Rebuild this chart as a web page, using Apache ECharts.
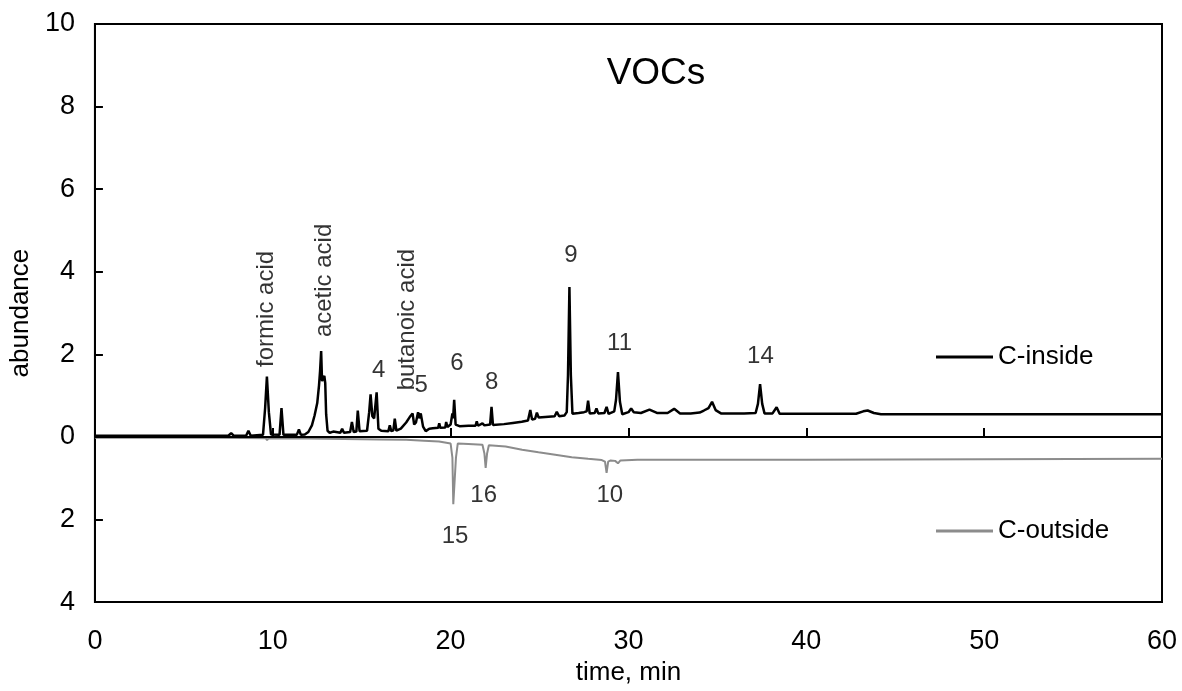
<!DOCTYPE html>
<html lang="en">
<head>
  <meta charset="UTF-8">
  <title>VOCs</title>
  <script src="https://cdn.jsdelivr.net/npm/echarts/dist/echarts.min.js"></script>
  <style>
    body { margin: 0; background: #ffffff; }
    #main { width: 1182px; height: 691px; }
  </style>
</head>
<body>
  <div id="main"></div>
  <script>
    // chromatogram traces, [time (min), abundance]; C-outside is drawn downwards
    const insideData = [
      [0, 0.03], [5, 0.03], [7.5, 0.03], [7.66, 0.09], [7.8, 0.03], [8.5, 0.03], [8.63, 0.15], [8.76, 0.03],
      [9.45, 0.05], [9.57, 0.7], [9.67, 1.46], [9.78, 0.6], [9.9, 0.06],
      [10.38, 0.05], [10.49, 0.7], [10.6, 0.05],
      [11.35, 0.05], [11.47, 0.18], [11.58, 0.05],
      [11.8, 0.06], [12.0, 0.12], [12.2, 0.28], [12.35, 0.52], [12.5, 0.82], [12.6, 1.25], [12.66, 1.6],
      [12.72, 2.08], [12.77, 1.35], [12.83, 1.42], [12.9, 1.48], [12.95, 1.3], [13.0, 0.55], [13.08, 0.15], [13.2, 0.1],
      [13.4, 0.13], [13.8, 0.1], [13.9, 0.2], [14.0, 0.1], [14.35, 0.12], [14.45, 0.36], [14.55, 0.12],
      [14.7, 0.13], [14.78, 0.64], [14.88, 0.14],
      [15.3, 0.15], [15.42, 0.6], [15.5, 1.03], [15.6, 0.5], [15.7, 0.45], [15.84, 1.08], [15.94, 0.2], [16.1, 0.15],
      [16.5, 0.14], [16.58, 0.28], [16.66, 0.14], [16.78, 0.16], [16.86, 0.44], [16.95, 0.15],
      [17.2, 0.2], [17.5, 0.35], [17.7, 0.48], [17.86, 0.57], [17.95, 0.3], [18.05, 0.35], [18.17, 0.6],
      [18.24, 0.45], [18.32, 0.57], [18.45, 0.25], [18.6, 0.14],
      [18.8, 0.2], [19.0, 0.21], [19.3, 0.22], [19.36, 0.33], [19.42, 0.22], [19.7, 0.23], [19.75, 0.36], [19.82, 0.24],
      [20.0, 0.3], [20.1, 0.57], [20.14, 0.45], [20.2, 0.9], [20.28, 0.3], [20.5, 0.26],
      [21.0, 0.27], [21.4, 0.27], [21.47, 0.38], [21.54, 0.27], [21.79, 0.33], [21.9, 0.28],
      [22.22, 0.3], [22.3, 0.73], [22.38, 0.29],
      [23.0, 0.31], [23.5, 0.34], [24.0, 0.37], [24.35, 0.4], [24.48, 0.65], [24.58, 0.42], [24.75, 0.44],
      [24.85, 0.59], [24.95, 0.47],
      [25.5, 0.49], [25.85, 0.5], [25.97, 0.61], [26.1, 0.5], [26.4, 0.52], [26.53, 0.6], [26.6, 1.5],
      [26.68, 3.63], [26.76, 1.5], [26.85, 0.56],
      [27.2, 0.58], [27.5, 0.6], [27.65, 0.62], [27.73, 0.88], [27.82, 0.57], [28.1, 0.58], [28.2, 0.69],
      [28.3, 0.57], [28.65, 0.58], [28.77, 0.73], [28.88, 0.56],
      [29.2, 0.62], [29.3, 0.9], [29.41, 1.57], [29.52, 0.85], [29.65, 0.55],
      [30.0, 0.6], [30.15, 0.69], [30.3, 0.6], [30.7, 0.58], [31.18, 0.66], [31.6, 0.58], [32.2, 0.58],
      [32.57, 0.68], [32.9, 0.57],
      [33.5, 0.57], [34.0, 0.59], [34.24, 0.64], [34.5, 0.7], [34.7, 0.85], [34.9, 0.65], [35.2, 0.57],
      [36.5, 0.57], [37.15, 0.58], [37.28, 0.8], [37.4, 1.28], [37.52, 0.8], [37.65, 0.57], [38.1, 0.57],
      [38.33, 0.72], [38.5, 0.56],
      [40, 0.56], [42.8, 0.56], [43.2, 0.62], [43.45, 0.64], [43.8, 0.58], [44.2, 0.55], [50, 0.55], [55, 0.55], [60, 0.55]
    ];

    const outsideData = [
      [0, -0.02], [7, -0.02], [9.6, -0.03], [9.68, -0.08], [9.76, -0.03], [12, -0.04], [14, -0.05], [16, -0.06],
      [17.5, -0.07], [18.5, -0.09], [19.35, -0.11], [20.0, -0.16], [20.1, -0.5], [20.15, -1.63], [20.22, -1.63],
      [20.3, -0.5], [20.4, -0.16], [21.0, -0.17], [21.79, -0.19], [21.9, -0.4], [21.97, -0.75], [22.05, -0.4],
      [22.15, -0.2], [23.09, -0.23], [24.02, -0.31], [24.94, -0.37], [25.88, -0.43], [26.81, -0.49], [27.73, -0.53],
      [28.5, -0.56], [28.68, -0.6], [28.77, -0.87], [28.86, -0.6], [29.0, -0.57], [29.25, -0.58], [29.41, -0.64],
      [29.55, -0.57], [30.5, -0.55], [40, -0.55], [50, -0.54], [60, -0.53]
    ];

    // peak annotations (data coordinates)
    const compoundNames = ['formic acid', 'acetic acid', 'butanoic acid'];
    const compoundX = [9.65, 12.88, 17.57];
    const compoundY = [3.1, 3.79, 2.84];

    const peakNumbers = ['4', '5', '6', '8', '9', '11', '14', '16', '10', '15'];
    const peakNumX = [15.95, 18.35, 20.36, 22.31, 26.77, 29.5, 37.42, 21.86, 28.95, 20.25];
    const peakNumY = [1.6, 1.24, 1.79, 1.33, 4.39, 2.27, 1.94, -1.41, -1.41, -2.42];

    const xTicks = { min: 0, max: 60, interval: 10 };
    const yTicks = { min: -4, max: 10, interval: 2 };

    const font = 'Liberation Sans, Arial, sans-serif';

    const labelPoints = compoundNames.map((n, i) => ({
      name: n,
      value: [compoundX[i], compoundY[i]],
      label: { rotate: 90 }
    })).concat(peakNumbers.map((n, i) => ({
      name: n,
      value: [peakNumX[i], peakNumY[i]]
    })));

    var myChart = echarts.init(document.getElementById('main'));

    var option = {
      animation: false,
      backgroundColor: '#ffffff',
      title: {
        text: 'VOCs',
        left: 651,
        top: 50,
        textAlign: 'center',
        textStyle: { fontFamily: font, fontSize: 37, fontWeight: 'normal', color: '#000' }
      },
      grid: {
        left: 86, right: 20, top: 24, bottom: 84,
        show: true, borderColor: '#000', borderWidth: 2
      },
      legend: {
        data: [
          { name: 'C-inside', icon: 'rect' },
          { name: 'C-outside', icon: 'rect' }
        ],
        orient: 'vertical',
        left: 931,
        top: 338,
        itemWidth: 57,
        itemHeight: 3,
        itemGap: 146,
        textStyle: { fontFamily: font, fontSize: 26, color: '#000', lineHeight: 28 }
      },
      xAxis: {
        type: 'value',
        min: xTicks.min, max: xTicks.max, interval: xTicks.interval,
        name: 'time, min',
        nameLocation: 'middle',
        nameGap: 56,
        nameTextStyle: { fontFamily: font, fontSize: 26, color: '#000' },
        axisLine: { lineStyle: { color: '#000', width: 2 } },
        axisTick: { inside: true, length: 9, lineStyle: { color: '#000', width: 2 } },
        axisLabel: { fontFamily: font, fontSize: 27, color: '#000', margin: 26 },
        splitLine: { show: false }
      },
      yAxis: {
        type: 'value',
        min: yTicks.min, max: yTicks.max, interval: yTicks.interval,
        name: 'abundance',
        nameLocation: 'middle',
        nameGap: 50,
        nameTextStyle: { fontFamily: font, fontSize: 26, color: '#000' },
        axisLine: { lineStyle: { color: '#000', width: 2 } },
        axisTick: { inside: true, length: 8, lineStyle: { color: '#000', width: 2 } },
        axisLabel: {
          fontFamily: font, fontSize: 27, color: '#000', margin: 20,
          formatter: v => String(Math.abs(v))
        },
        splitLine: { show: false }
      },
      series: [
        {
          name: 'C-outside',
          type: 'line',
          data: outsideData,
          showSymbol: false,
          symbol: 'none',
          lineStyle: { color: '#8c8c8c', width: 2 },
          itemStyle: { color: '#8c8c8c' },
          z: 2
        },
        {
          name: 'C-inside',
          type: 'line',
          data: insideData,
          showSymbol: false,
          symbol: 'none',
          lineStyle: { color: '#000', width: 2.5 },
          itemStyle: { color: '#000' },
          z: 3,
          markLine: {
            silent: true,
            symbol: 'none',
            label: { show: false },
            lineStyle: { color: '#000', width: 2, type: 'solid' },
            data: [{ yAxis: 0 }]
          }
        },
        {
          name: 'labels',
          type: 'scatter',
          data: labelPoints,
          symbolSize: 1,
          itemStyle: { color: 'rgba(0,0,0,0)' },
          silent: true,
          z: 4,
          label: {
            show: true,
            position: 'inside',
            formatter: p => p.name,
            fontFamily: font,
            fontSize: 24,
            color: '#000',
            textBorderWidth: 0
          }
        }
      ]
    };

    myChart.setOption(option);
  </script>
</body>
</html>
